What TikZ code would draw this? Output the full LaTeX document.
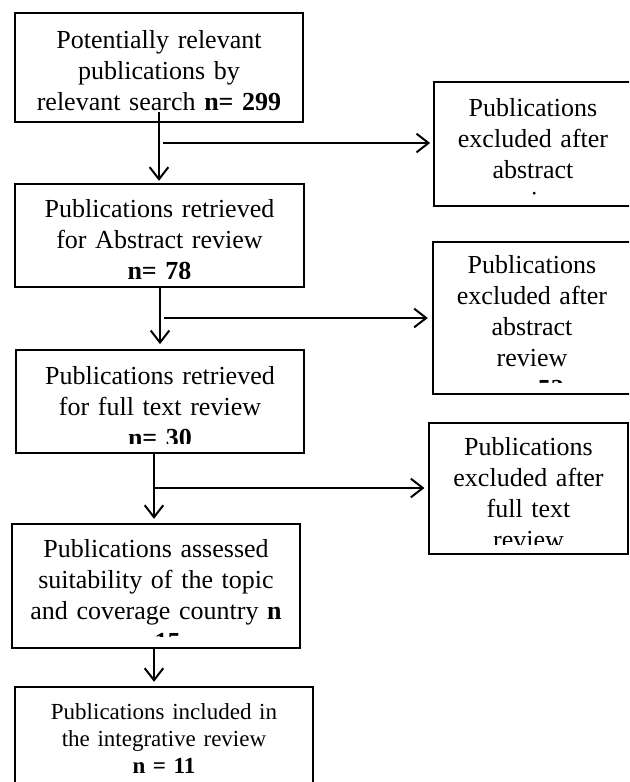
\documentclass[tikz,border=0pt]{standalone}
\usepackage{fontspec}
\setmainfont{Liberation Serif}
\newfontfamily\tightfont[WordSpace=0.5]{Liberation Serif}
\usetikzlibrary{arrows.meta,fit}

\begin{document}
\begin{tikzpicture}[x=0.75pt,y=-0.75pt,
  box/.style={draw, line width=1.8pt, inner sep=0pt},
  txt/.style={anchor=base, align=center, inner sep=0pt, text width=#1,
    font=\fontsize{19.5pt}{23.25pt}\selectfont},
  txt/.default=210pt,
  tighttxt/.style={txt, font=\tightfont\fontsize{19.5pt}{23.25pt}\selectfont},
  smalltxt/.style={txt, font=\tightfont\fontsize{17.25pt}{20.25pt}\selectfont},
  arr/.style={line width=1.5pt, -{Straight Barb[length=9pt,width=14pt]}}]
%set diagram to the page size
\clip (0,0) rectangle (629,782);

%Boxes of the main column
\node[box, fit={(15,13) (303,122)}] (pub) {};
\node[box, fit={(15,184) (304,287)}] (abs) {};
\node[box, fit={(16,350) (304,453)}] (ful) {};
\node[box, fit={(12,524) (300,648)}] (sui) {};
\node[box, fit={(15,687) (313,800)}] (inc) {};
%Boxes of the excluded publications
\node[box, fit={(434,82) (632,206)}] (exa) {};
\node[box, fit={(433,242) (631,394)}] (exb) {};
\node[box, fit={(429,423) (628,554)}] (exc) {};

% Text Node
\begin{scope}
\clip (pub.north west) rectangle ([yshift=7.5pt]pub.south east);
\node[txt] (pubtxt) at ([yshift=-27.75pt]pub.north) {Potentially relevant\\ publications by\\ relevant search \textbf{n= 299}};
\end{scope}
% Text Node
\begin{scope}
\clip (abs.north west) rectangle ([yshift=7.5pt]abs.south east);
\node[txt] (abstxt) at ([yshift=-26.25pt]abs.north) {Publications retrieved\\ for Abstract review\\ \textbf{n= 78}};
\end{scope}
% Text Node
\begin{scope}
\clip (ful.north west) rectangle ([yshift=8.25pt]ful.south east);
\node[txt] (fultxt) at ([yshift=-27pt]ful.north) {Publications retrieved\\ for full text review\\ \textbf{n= 30}};
\end{scope}
% Text Node
\begin{scope}
\clip (sui.north west) rectangle ([yshift=9.75pt]sui.south east);
\node[tighttxt] (suitxt) at ([yshift=-26.25pt]sui.north) {Publications assessed\\ suitability of the topic\\ and coverage country \textbf{n}\\ \textbf{= 15}};
\end{scope}
% Text Node
\node[smalltxt] (inctxt) at ([yshift=-25.5pt]inc.north) {Publications included in\\ the integrative review\\ \textbf{n = 11}};
% Text Node
\begin{scope}
\clip (exa.north west) rectangle ([yshift=9pt]exa.south east);
\node[txt=145pt] (exatxt) at ([yshift=-27pt]exa.north) {Publications\\ excluded after\\ abstract\\ review};
\end{scope}
% Text Node
\begin{scope}
\clip (exb.north west) rectangle ([yshift=9.75pt]exb.south east);
\node[txt=145pt] (exbtxt) at ([yshift=-24.75pt]exb.north) {Publications\\ excluded after\\ abstract\\ review\\ \textbf{n= 52}};
\end{scope}
% Text Node
\begin{scope}
\clip (exc.north west) rectangle ([yshift=8.25pt]exc.south east);
\node[txt=145pt] (exctxt) at ([yshift=-25.5pt]exc.north) {Publications\\ excluded after\\ full text\\ review};
\end{scope}

%Straight Lines with arrows
\coordinate (ta) at (159,112);
\coordinate (ja) at (159,143);
\coordinate (jb) at (160,318);
\coordinate (jc) at (154,488);
\coordinate (jd) at (154,665);
\draw[arr, shorten >=1.5pt] (ta) -- (ta |- abs.north);
\draw[arr, shorten >=2pt] ([xshift=3pt]ja) -- (ja -| exa.west);
\draw[arr, shorten >=3.5pt] (abs.south -| jb) -- (jb |- ful.north);
\draw[arr, shorten >=3pt] ([xshift=3pt]jb) -- (jb -| exb.west);
\draw[arr, shorten >=3pt] (ful.south -| jc) -- (jc |- sui.north);
\draw[arr, shorten >=2.5pt] (jc) -- (jc -| exc.west);
\draw[arr, shorten >=3pt] (sui.south -| jd) -- (jd |- inc.north);

\end{tikzpicture}
\end{document}
